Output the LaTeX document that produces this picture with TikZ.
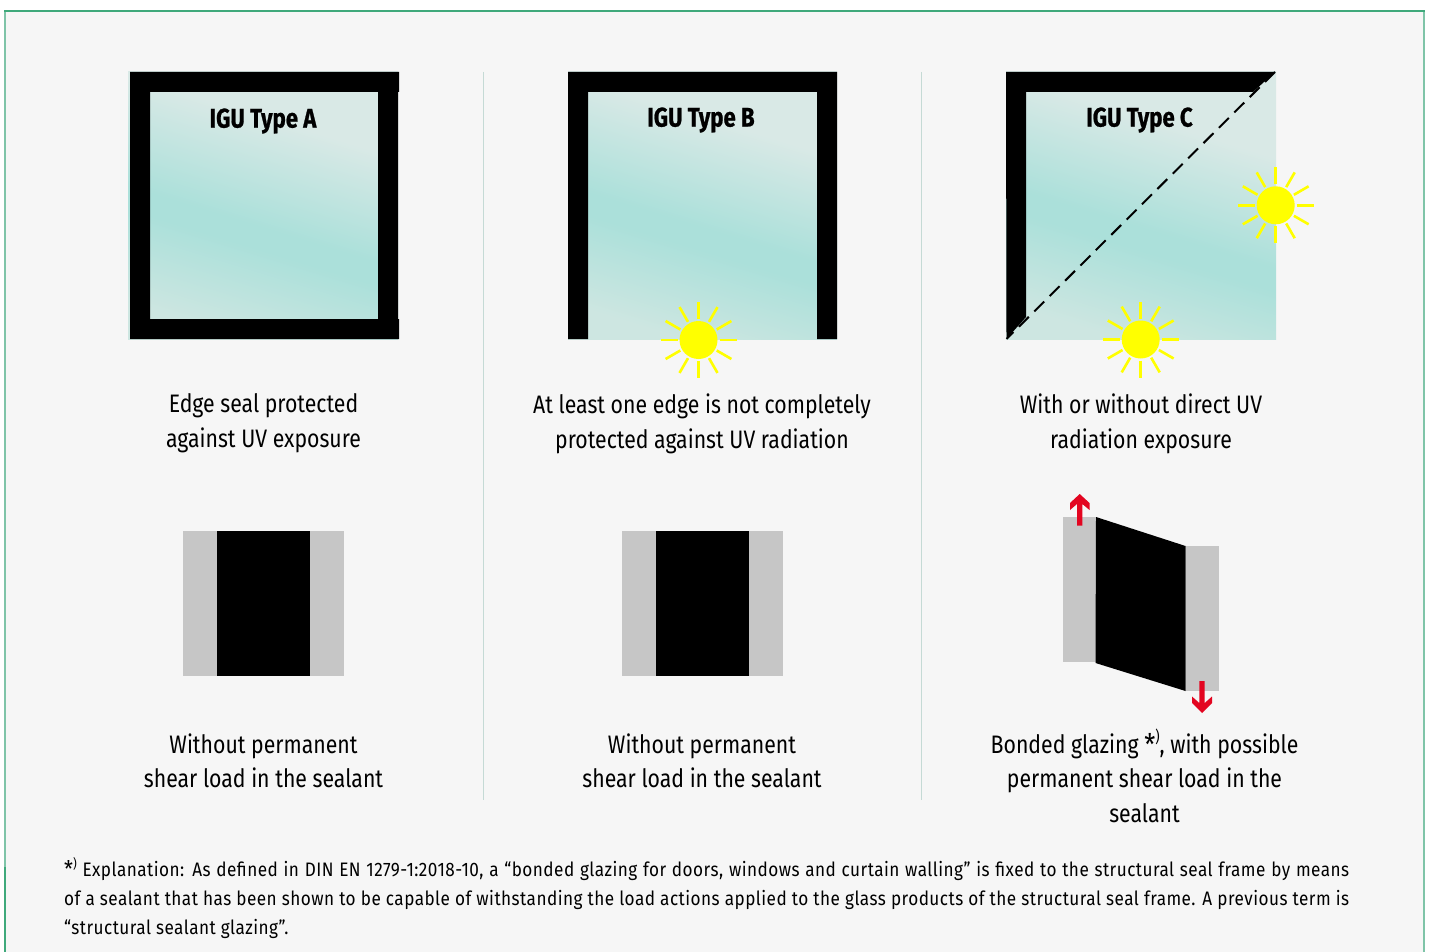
\documentclass[tikz,border=0pt]{standalone}
\usepackage{fontspec}
\setmainfont[FakeStretch=0.84]{Fira Sans}
\newfontfamily\headfont[FakeStretch=0.82,FakeBold=0.8]{Fira Sans}
\newfontfamily\notefont[FakeStretch=0.88,LetterSpace=2.4]{Fira Sans}
\definecolor{framegreen}{HTML}{3FA97B}
\definecolor{framelight}{HTML}{7FC4A8}
\definecolor{panelbg}{HTML}{F6F6F6}
\definecolor{divline}{HTML}{C5DAD5}
\definecolor{glassA}{HTML}{D9E9E6}
\definecolor{glassB}{HTML}{ABE0DA}
\definecolor{glassC}{HTML}{CDE6E1}
\definecolor{sealgray}{HTML}{C6C6C6}
\definecolor{arrowred}{HTML}{E30520}
\definecolor{sunyellow}{HTML}{FFFF00}
\pgfdeclareverticalshading{glassshade}{100bp}{color(0bp)=(glassC);color(25bp)=(glassC);color(42bp)=(glassB);color(46bp)=(glassB);color(66bp)=(glassA);color(100bp)=(glassA)}
\tikzset{
  x=1pt,y=-1pt,
  glass/.style={shading=glassshade,shading angle=-17},
  blackpart/.style={fill=black,draw=none},
  seal/.style={fill=sealgray,draw=none},
  body/.style={font=\fontsize{25.3}{35}\selectfont,align=center,text=black,inner sep=0pt},
  bodyb/.style={font=\fontsize{25.3}{34.4}\selectfont,align=center,text=black,inner sep=0pt},
  head/.style={font=\headfont\bfseries\fontsize{27}{30}\selectfont,text=black,inner sep=0pt},
  note/.style={font=\notefont\fontsize{19.5}{29}\selectfont,anchor=north west,text=black,inner sep=0pt,align=left},
  ray/.style={draw=sunyellow,line width=2.6pt},
  redarrow/.style={fill=arrowred,draw=none}
}
\newcommand{\sunat}[3]{%
  \coordinate (#3) at (#1,#2);
  \foreach \a in {0,30,...,330}{\draw[ray] ($(#3)+(\a:21)$) -- ($(#3)+(\a:38)$);}
  \fill[sunyellow] (#3) circle[radius=19];
}
\newcommand{\starmark}[1]{\raisebox{-.06em}{\scalebox{1.18}{*}}\raisebox{.42em}{\fontsize{#1}{#1}\selectfont )}}
\usetikzlibrary{calc}
\begin{document}
\begin{tikzpicture}
\useasboundingbox (0,0) rectangle (1432,952);
\fill[white] (0,0) rectangle (1432,952);
% frame
\fill[panelbg] (5,11) rectangle (1424,952);
\draw[framelight,line width=2pt] (5,867) -- (5,11);
\draw[framelight,line width=2pt] (1424,11) -- (1424,952);
\draw[framegreen,line width=1.6pt] (4,11) -- (1425,11);
\draw[framegreen,line width=2pt] (5,867) -- (5,952);
% dividers
\coordinate (d1t) at (483,72); \coordinate (d1b) at (483,800);
\coordinate (d2t) at (921,72); \coordinate (d2b) at (921,800);
\draw[divline,line width=1pt] (d1t) -- (d1b);
\draw[divline,line width=1pt] (d2t) -- (d2b);
% Type A
\shade[glass] (128,72) rectangle (398,339);
\fill[blackpart] (130,72) -- (399,72) -- (399,92) -- (398,92) -- (398,319) -- (399,319) -- (399,339) -- (130,339) -- cycle
  (150,92) -- (150,319) -- (378,319) -- (378,92) -- cycle;
\node[head] (ta) at (263,121) {IGU Type A};
% Type B
\shade[glass] (568,72) rectangle (837,339);
\fill[blackpart] (568,72) -- (837,72) -- (837,339) -- (817,339) -- (817,92) -- (588,92) -- (588,339) -- (568,339) -- cycle;
\node[head] (tb) at (701,120) {IGU Type B};
\sunat{698.5}{340}{sunb}
% Type C
\shade[glass] (1006,72) rectangle (1276,339);
\fill[blackpart] (1006,72) -- (1275,72) -- (1253,92) -- (1026,92) -- (1026,317) -- (1006.5,339) -- cycle;
\coordinate (cda) at (1275,72); \coordinate (cdb) at (1006.5,339);
\draw[black,line width=2pt,dash pattern=on 14pt off 7.7pt] (cda) -- (cdb);
\node[head] (tc) at (1139.5,120) {IGU Type C};
\sunat{1275.7}{205.3}{suncr}
\sunat{1140.7}{339.5}{suncb}
% captions row 1
\node[body] (ca) at (263.5,423.5) {Edge seal protected\\against UV exposure};
\node[body] (cb) at (702,423.5) {At least one edge is not completely\\protected against UV radiation};
\node[body] (cc) at (1141,423.5) {With or without direct UV\\radiation exposure};
% seals A
\fill[seal] (183,531) rectangle (344,676);
\fill[blackpart] (217,531) rectangle (310,676);
% seals B
\fill[seal] (622,531) rectangle (783,676);
\fill[blackpart] (656,531) rectangle (749,676);
% seals C
\fill[seal] (1063,517) rectangle (1096,662);
\fill[seal] (1185.5,546) rectangle (1219,691);
\fill[blackpart] (1096,517) -- (1185.5,546) -- (1185.5,691) -- (1095.5,663) -- cycle;
% arrows
\fill[redarrow] (1079.7,494) -- (1089.5,503) -- (1089.5,510) -- (1082.3,504) -- (1082.3,525.5) -- (1077,525.5) -- (1077,504) -- (1070,510) -- (1070,503) -- cycle;
\fill[redarrow] (1202,713) -- (1212,703) -- (1212,696.5) -- (1204.7,703) -- (1204.7,681) -- (1199.3,681) -- (1199.3,703) -- (1192,696.5) -- (1192,703) -- cycle;
% captions row 2
\node[bodyb] (sa) at (263.5,760.5) {Without permanent\\shear load in the sealant};
\node[bodyb] (sb) at (702,760.5) {Without permanent\\shear load in the sealant};
\node[bodyb] (sc) at (1144.5,776) {Bonded glazing \starmark{16}, with possible\\permanent shear load in the\\sealant};
% note
\node[note] (fn) at (64,857) {\makebox[1285pt][s]{\starmark{13} Explanation: As defined in DIN EN 1279-1:2018-10, a “bonded glazing for doors, windows and curtain walling” is fixed to the structural seal frame by means}\\\makebox[1285pt][s]{of a sealant that has been shown to be capable of withstanding the load actions applied to the glass products of the structural seal frame. A previous term is}\\“structural sealant glazing”.};
\end{tikzpicture}
\end{document}
